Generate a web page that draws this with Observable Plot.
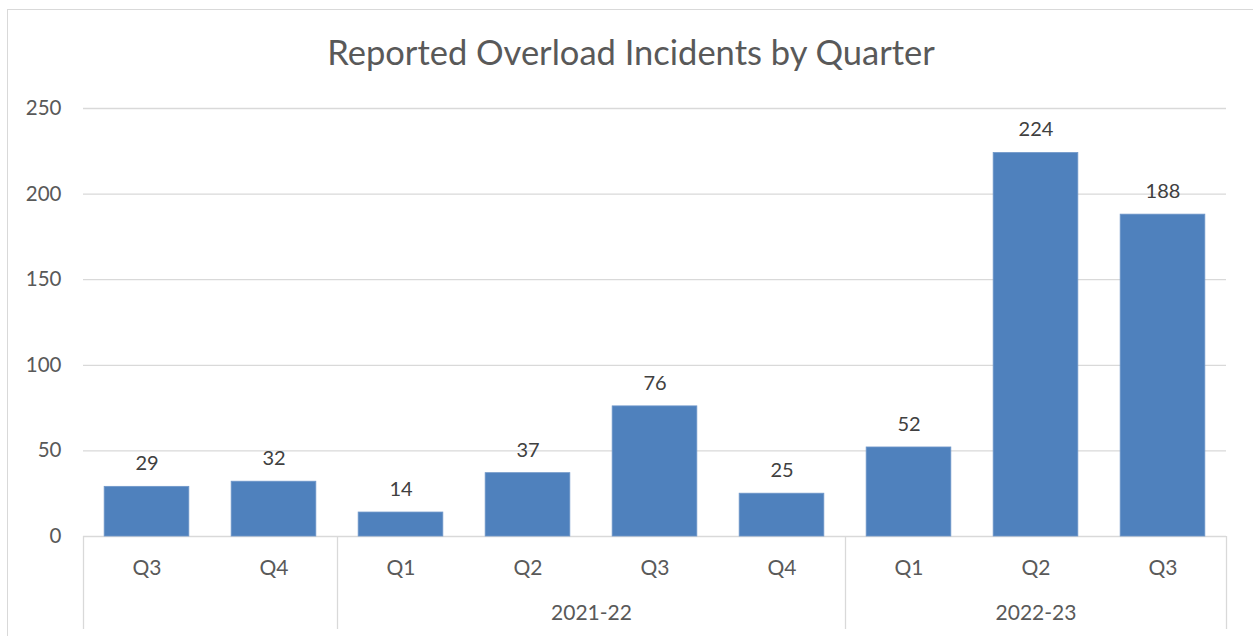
<!DOCTYPE html>
<html>
<head>
<meta charset="utf-8">
<script src="https://cdn.jsdelivr.net/npm/d3@7"></script>
<script src="https://cdn.jsdelivr.net/npm/@observablehq/plot@0.6"></script>
<style>
  html, body { margin: 0; padding: 0; background: #fff; overflow: hidden; }
  body { width: 1253px; height: 636px; position: relative; font-family: Lato, "Open Sans", sans-serif; }
  #frame { position: absolute; left: 7px; top: 9px; width: 1300px; height: 700px; border: 1px solid #d9d9d9; box-sizing: border-box; }
  #title { position: absolute; left: 0; top: 35px; width: 1262px; text-align: center; font-size: 34.5px; line-height: 34px; color: #595959; font-family: Lato, sans-serif; }
  #chart { position: absolute; left: 0; top: 90px; }
</style>
</head>
<body>
<div id="frame"></div>
<div id="title">Reported Overload Incidents by Quarter</div>
<div id="chart"></div>
<script>
const quarters = ["Q3", "Q4", "Q1", "Q2", "Q3", "Q4", "Q1", "Q2", "Q3"];
const fiscalYears = ["", "", "2021-22", "2021-22", "2021-22", "2021-22", "2022-23", "2022-23", "2022-23"];
const incidents = [29, 32, 14, 37, 76, 25, 52, 224, 188];
const yTicks = [0, 50, 100, 150, 200, 250];

const data = quarters.map((q, i) => ({i, quarter: q, year: fiscalYears[i], value: incidents[i]}));

// runs of consecutive fiscal years -> groups
const groups = [];
fiscalYears.forEach((y, i) => {
  const last = groups[groups.length - 1];
  if (last && last.year === y) last.end = i + 1;
  else groups.push({year: y, start: i, end: i + 1});
});
const bounds = Array.from(new Set(groups.flatMap(g => [g.start, g.end])));

const gap = 0.5; // Excel gap width 50%
const barFrac = 1 / (1 + gap);
const off = (1 - barFrac) / 2;

const plot = Plot.plot({
  width: 1253,
  height: 546,
  marginLeft: 83,
  marginRight: 27,
  marginTop: 18,
  marginBottom: 100,
  x: {domain: [0, quarters.length], axis: null},
  y: {domain: [0, 250], axis: null},
  style: {fontFamily: "Lato, sans-serif", fontSize: "20px", color: "#595959", background: "transparent"},
  marks: [
    Plot.ruleY(yTicks, {stroke: "#d9d9d9", strokeWidth: 1.3}),
    Plot.axisY(yTicks, {tickSize: 0, tickPadding: 22, fontSize: 20.5, label: null}),
    Plot.rectY(data, {x1: d => d.i + off, x2: d => d.i + 1 - off, y: "value", fill: "#4f81bd", stroke: "#6f97c9", strokeWidth: 0.8}),
    Plot.text(data, {x: d => d.i + 0.5, y: "value", text: d => String(d.value), dy: -23, fontSize: 20, fill: "#404040"}),
    Plot.ruleX(bounds, {x: d => d, insetTop: 428, insetBottom: -93, stroke: "#d9d9d9", strokeWidth: 1.3}),
    Plot.text(data, {x: d => d.i + 0.5, y: 0, text: "quarter", dy: 32, fontSize: 21, fill: "#595959"}),
    Plot.text(groups.filter(g => g.year), {x: g => (g.start + g.end) / 2, y: 0, text: "year", dy: 77, fontSize: 21, fill: "#595959"})
  ]
});
document.getElementById("chart").appendChild(plot);
</script>
</body>
</html>
